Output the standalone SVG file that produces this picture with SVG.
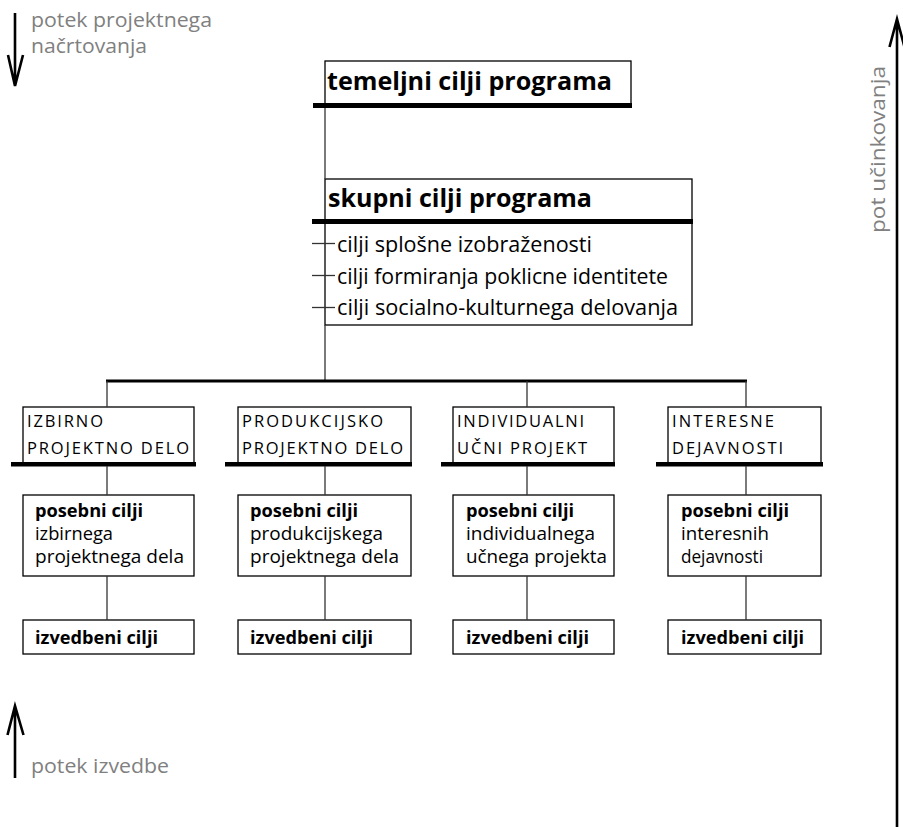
<svg xmlns="http://www.w3.org/2000/svg" width="903" height="827" viewBox="0 0 903 827">
<style>
text{font-family:"Open Sans","Noto Sans",sans-serif;fill:#000}
.b{font-weight:700}
.g{fill:#808080;font-size:19.5px}
.box{fill:#fff;stroke:#000;stroke-width:1.3}
.bar{fill:#000}
.ln{stroke:#333;stroke-width:1.3;fill:none}
.arr{stroke:#000;stroke-width:2.6;fill:none}
.cap{font-size:16.5px}
.p{font-size:18px}
.it{font-size:22px}
.h{font-size:25px;font-weight:700}
</style>
<g id="arrow-planning">
<path class="arr" d="M15 13V86M8 55L15 86L23 55"/>
<text class="g" x="31" y="27" textLength="181" lengthAdjust="spacingAndGlyphs">potek projektnega</text>
<text class="g" x="31" y="53" textLength="116" lengthAdjust="spacingAndGlyphs">načrtovanja</text>
</g>
<g id="arrow-execution">
<path class="arr" d="M15 778V706M7.5 735L15 706L23.5 735"/>
<text class="g" x="31" y="773" textLength="138" lengthAdjust="spacingAndGlyphs">potek izvedbe</text>
</g>
<g id="arrow-effect">
<path class="arr" d="M897 827V19M889.5 47L897 19L904.5 47" stroke-width="3.2"/>
<text class="g" transform="translate(885,233) rotate(-90)" x="0" y="0" font-size="20" textLength="167" lengthAdjust="spacingAndGlyphs">pot učinkovanja</text>
</g>
<g id="temeljni">
<rect class="box" x="325" y="61" width="306" height="44"/>
<rect class="bar" x="313" y="103" width="319" height="5"/>
<text class="h" x="327" y="90" textLength="285" lengthAdjust="spacingAndGlyphs">temeljni cilji programa</text>
</g>
<g id="skupni">
<rect class="box" x="325" y="179" width="367" height="146"/>
<rect class="bar" x="312" y="219" width="381" height="5"/>
<text class="h" x="328" y="207" textLength="264" lengthAdjust="spacingAndGlyphs">skupni cilji programa</text>
<text class="it" x="337" y="251.5" textLength="255" lengthAdjust="spacingAndGlyphs">cilji splošne izobraženosti</text>
<text class="it" x="337" y="283.5" textLength="331" lengthAdjust="spacingAndGlyphs">cilji formiranja poklicne identitete</text>
<text class="it" x="337" y="315" textLength="341" lengthAdjust="spacingAndGlyphs">cilji socialno-kulturnega delovanja</text>
</g>
<g id="cat1">
<rect class="box" x="23" y="407" width="171" height="57"/>
<rect class="bar" x="11" y="462" width="185" height="4.5"/>
<text class="cap" x="27" y="427" textLength="76" lengthAdjust="spacing">IZBIRNO</text>
<text class="cap" x="27" y="454" textLength="162" lengthAdjust="spacing">PROJEKTNO DELO</text>
</g>
<g id="cat2">
<rect class="box" x="238" y="407" width="173" height="57"/>
<rect class="bar" x="225" y="462" width="187" height="4.5"/>
<text class="cap" x="242" y="427" textLength="141" lengthAdjust="spacing">PRODUKCIJSKO</text>
<text class="cap" x="242" y="454" textLength="161" lengthAdjust="spacing">PROJEKTNO DELO</text>
</g>
<g id="cat3">
<rect class="box" x="453" y="407" width="161" height="57"/>
<rect class="bar" x="441" y="462" width="174" height="4.5"/>
<text class="cap" x="457" y="427" textLength="127" lengthAdjust="spacing">INDIVIDUALNI</text>
<text class="cap" x="457" y="454" textLength="130" lengthAdjust="spacing">UČNI PROJEKT</text>
</g>
<g id="cat4">
<rect class="box" x="668" y="407" width="153" height="57"/>
<rect class="bar" x="656" y="462" width="167" height="4.5"/>
<text class="cap" x="672" y="427" textLength="102" lengthAdjust="spacing">INTERESNE</text>
<text class="cap" x="672" y="454" textLength="111" lengthAdjust="spacing">DEJAVNOSTI</text>
</g>
<g id="posebni1">
<rect class="box" x="23" y="495" width="171" height="81"/>
<text class="p b" x="35" y="517" textLength="108" lengthAdjust="spacingAndGlyphs">posebni cilji</text>
<text class="p" x="35" y="540" textLength="78" lengthAdjust="spacingAndGlyphs">izbirnega</text>
<text class="p" x="35" y="563" textLength="149" lengthAdjust="spacingAndGlyphs">projektnega dela</text>
</g>
<g id="posebni2">
<rect class="box" x="238" y="495" width="173" height="81"/>
<text class="p b" x="250" y="517" textLength="108" lengthAdjust="spacingAndGlyphs">posebni cilji</text>
<text class="p" x="250" y="540" textLength="133" lengthAdjust="spacingAndGlyphs">produkcijskega</text>
<text class="p" x="250" y="563" textLength="149" lengthAdjust="spacingAndGlyphs">projektnega dela</text>
</g>
<g id="posebni3">
<rect class="box" x="453" y="495" width="161" height="81"/>
<text class="p b" x="466" y="517" textLength="108" lengthAdjust="spacingAndGlyphs">posebni cilji</text>
<text class="p" x="466" y="540" textLength="129" lengthAdjust="spacingAndGlyphs">individualnega</text>
<text class="p" x="466" y="563" textLength="141" lengthAdjust="spacingAndGlyphs">učnega projekta</text>
</g>
<g id="posebni4">
<rect class="box" x="668" y="495" width="153" height="81"/>
<text class="p b" x="681" y="517" textLength="108" lengthAdjust="spacingAndGlyphs">posebni cilji</text>
<text class="p" x="681" y="540" textLength="88" lengthAdjust="spacingAndGlyphs">interesnih</text>
<text class="p" x="681" y="563" textLength="82" lengthAdjust="spacingAndGlyphs">dejavnosti</text>
</g>
<g id="izvedbeni1">
<rect class="box" x="23" y="620" width="171" height="34"/>
<text class="p b" x="35" y="644" textLength="123" lengthAdjust="spacingAndGlyphs">izvedbeni cilji</text>
</g>
<g id="izvedbeni2">
<rect class="box" x="238" y="620" width="173" height="34"/>
<text class="p b" x="250" y="644" textLength="123" lengthAdjust="spacingAndGlyphs">izvedbeni cilji</text>
</g>
<g id="izvedbeni3">
<rect class="box" x="453" y="620" width="161" height="34"/>
<text class="p b" x="466" y="644" textLength="123" lengthAdjust="spacingAndGlyphs">izvedbeni cilji</text>
</g>
<g id="izvedbeni4">
<rect class="box" x="668" y="620" width="153" height="34"/>
<text class="p b" x="681" y="644" textLength="123" lengthAdjust="spacingAndGlyphs">izvedbeni cilji</text>
</g>
<g id="connectors">
<line class="ln" x1="325" y1="108" x2="325" y2="179"/>
<line class="ln" x1="325" y1="325" x2="325" y2="381"/>
<line class="ln" x1="312" y1="243.5" x2="335" y2="243.5"/>
<line class="ln" x1="312" y1="275.5" x2="335" y2="275.5"/>
<line class="ln" x1="312" y1="307.5" x2="335" y2="307.5"/>
<rect class="bar" x="106" y="379.5" width="641" height="3"/>
<line class="ln" x1="107" y1="381" x2="107" y2="407"/>
<line class="ln" x1="527" y1="381" x2="527" y2="407"/>
<line class="ln" x1="746" y1="381" x2="746" y2="407"/>
<line class="ln" x1="107" y1="466" x2="107" y2="495"/>
<line class="ln" x1="325" y1="466" x2="325" y2="495"/>
<line class="ln" x1="527" y1="466" x2="527" y2="495"/>
<line class="ln" x1="746" y1="466" x2="746" y2="495"/>
<line class="ln" x1="107" y1="576" x2="107" y2="620"/>
<line class="ln" x1="325" y1="576" x2="325" y2="620"/>
<line class="ln" x1="527" y1="576" x2="527" y2="620"/>
<line class="ln" x1="746" y1="576" x2="746" y2="620"/>
</g>
</svg>
